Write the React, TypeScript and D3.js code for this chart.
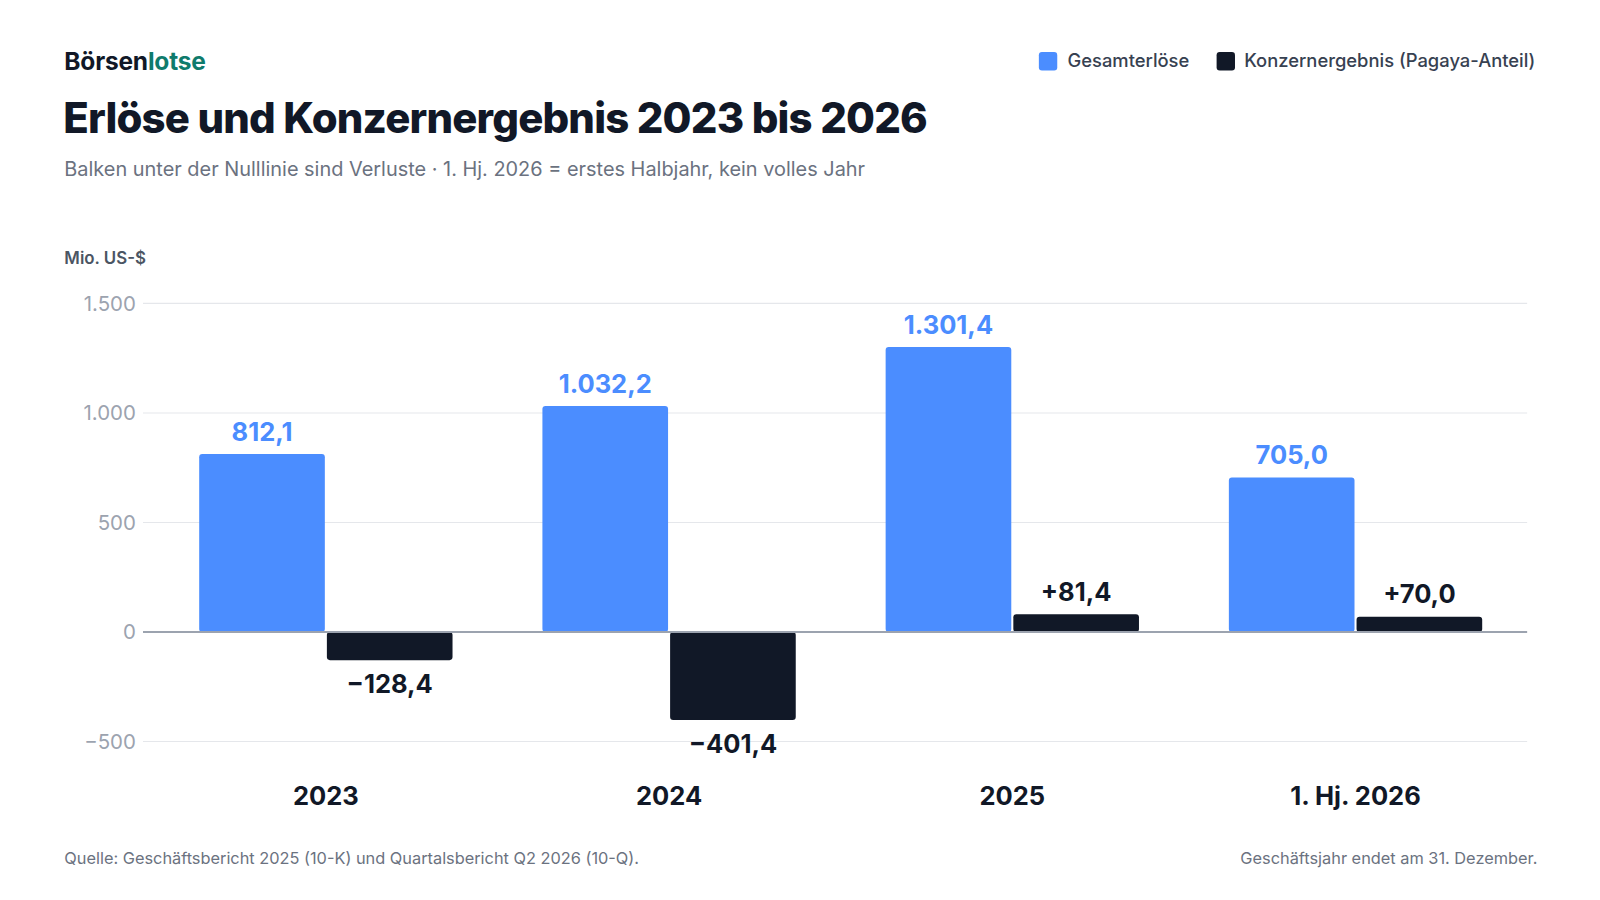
import React from "react";
import * as d3 from "d3";

const categories = ["2023", "2024", "2025", "1. Hj. 2026"];
const revenue = [812.1, 1032.2, 1301.4, 705.0];
const netIncome = [-128.4, -401.4, 81.4, 70.0];
const yTicks = [-500, 0, 500, 1000, 1500];

const BLUE = "#4b8dff";
const DARK = "#111827";
const FONT = "Inter, 'Noto Sans', sans-serif";

const fmt = (v: number) => {
  const s = Math.abs(v).toFixed(1).replace(".", ",");
  const [i, d] = s.split(",");
  const ii = i.replace(/\B(?=(\d{3})+(?!\d))/g, ".");
  return ii + "," + d;
};
const fmtTick = (v: number) => (v < 0 ? "−" : "") + Math.abs(v).toString().replace(/\B(?=(\d{3})+(?!\d))/g, ".");

export default function App() {
  const y = d3.scaleLinear().domain([-500, 1500]).range([726, 297]);
  const x = d3.scaleBand().domain(categories).range([151, 1495]).padding(0);
  const bw = 123;
  return (
    <svg width={1600} height={900} style={{ position: "fixed", top: 0, left: 0, display: "block", fontFamily: FONT }}>
      <rect width={1600} height={900} fill="#fff" />
      <g transform="scale(1.0215)">
        <text x={63} y={69} fontSize={24} fontWeight={700} fill={DARK} letterSpacing={-0.2}>
          Börsen<tspan fill="#0f7b6c">lotse</tspan>
        </text>
        <text x={62} y={130} fontSize={41} fontWeight={800} fill={DARK} letterSpacing={-0.8}>
          Erlöse und Konzernergebnis 2023 bis 2026
        </text>
        <text x={63} y={172} fontSize={19.5} fill="#6b7280">
          Balken unter der Nulllinie sind Verluste · 1. Hj. 2026 = erstes Halbjahr, kein volles Jahr
        </text>
        <rect x={1017} y={51} width={18} height={18} rx={3} fill={BLUE} />
        <text x={1045} y={66} fontSize={18} fontWeight={500} fill="#374151">Gesamterlöse</text>
        <rect x={1191} y={51} width={18} height={18} rx={3} fill={DARK} />
        <text x={1218} y={66} fontSize={18} fontWeight={500} fill="#374151">Konzernergebnis (Pagaya-Anteil)</text>
        <text x={63} y={258} fontSize={16.5} fontWeight={600} fill="#4b5563">Mio. US-$</text>
        {yTicks.map((t) => (
          <g key={t}>
            {t !== 0 && <line x1={140} x2={1495} y1={y(t)} y2={y(t)} stroke="#e5e7eb" />}
            <text x={133} y={y(t) + 7} textAnchor="end" fontSize={20} fill="#9ca3af">{fmtTick(t)}</text>
          </g>
        ))}
        {categories.map((c, i) => {
          const cx = x(c)! + x.bandwidth() / 2;
          const r = revenue[i], n = netIncome[i];
          return (
            <g key={c}>
              <rect x={cx - 124} y={y(r)} width={bw} height={y(0) - y(r)} rx={3} fill={BLUE} />
              <text x={cx - 62.5} y={y(r) - 13} textAnchor="middle" fontSize={25} fontWeight={700} fill={BLUE}>{fmt(r)}</text>
              <rect x={cx + 1} y={Math.min(y(n), y(0))} width={bw} height={Math.abs(y(n) - y(0))} rx={3} fill={DARK} />
              <text x={cx + 62.5} y={n < 0 ? y(n) + 32 : y(n) - 13} textAnchor="middle" fontSize={25} fontWeight={700} fill={DARK}>
                {(n < 0 ? "−" : "+") + fmt(n)}
              </text>
              <text x={cx} y={788} textAnchor="middle" fontSize={25} fontWeight={700} fill={DARK}>{c}</text>
            </g>
          );
        })}
        <line x1={140} x2={1495} y1={y(0)} y2={y(0)} stroke="#9ca3af" strokeWidth={2} />
        <text x={63} y={846} fontSize={16} fill="#6b7280">Quelle: Geschäftsbericht 2025 (10-K) und Quartalsbericht Q2 2026 (10-Q).</text>
        <text x={1505} y={846} textAnchor="end" fontSize={16} fill="#6b7280">Geschäftsjahr endet am 31. Dezember.</text>
      </g>
    </svg>
  );
}
